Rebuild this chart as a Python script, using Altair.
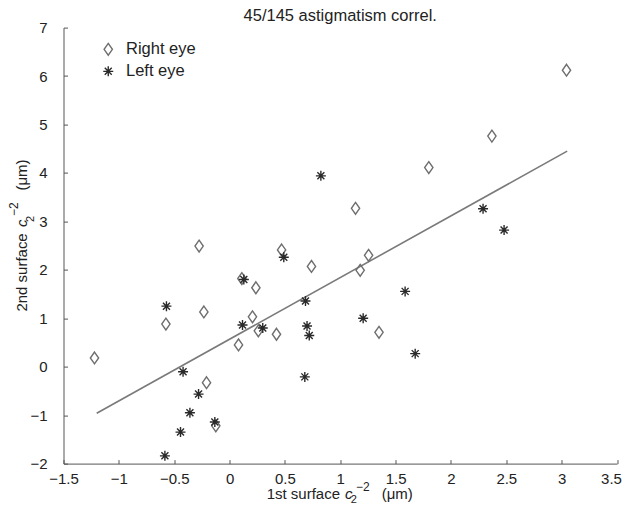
import altair as alt
import pandas as pd

# ---- data ----
right_x = [-1.22, -0.575, -0.275, -0.232, -0.208, -0.124, 0.081, 0.111, 0.207, 0.238,
           0.26, 0.424, 0.47, 0.74, 1.138, 1.18, 1.256, 1.35, 1.80, 2.37, 3.044]
right_y = [0.18, 0.88, 2.49, 1.13, -0.33, -1.22, 0.45, 1.82, 1.03, 1.63,
           0.74, 0.67, 2.41, 2.07, 3.27, 1.99, 2.30, 0.71, 4.11, 4.76, 6.12]
left_x = [-0.584, -0.57, -0.443, -0.42, -0.358, -0.28, -0.133, 0.117, 0.129, 0.30,
          0.49, 0.68, 0.686, 0.70, 0.72, 0.825, 1.207, 1.586, 1.677, 2.29, 2.48]
left_y = [-1.84, 1.25, -1.35, -0.105, -0.95, -0.565, -1.14, 0.86, 1.80, 0.80,
          2.26, -0.21, 1.355, 0.84, 0.645, 3.94, 1.00, 1.555, 0.27, 3.26, 2.82]
fit_x = [-1.2, 3.05]
fit_y = [-0.96, 4.45]
x_ticks = [-1.5, -1, -0.5, 0, 0.5, 1, 1.5, 2, 2.5, 3, 3.5]
y_ticks = [-2, -1, 0, 1, 2, 3, 4, 5, 6, 7]
series = ["Right eye", "Left eye"]
title_text = "45/145 astigmatism correl."

FONT = "Liberation Sans"
DIAMOND = "M0,-1L0.7,0L0,1L-0.7,0Z"
STAR = "M-1,0L1,0M0,-1L0,1M-0.7,-0.7L0.7,0.7M-0.7,0.7L0.7,-0.7"

pts = pd.DataFrame({
    "x": right_x + left_x,
    "y": right_y + left_y,
    "eye": [series[0]] * len(right_x) + [series[1]] * len(left_x),
})
fit = pd.DataFrame({"x": fit_x, "y": fit_y})

W, H = 553.5, 436

xscale = alt.Scale(domain=[-1.5, 3.5], nice=False, zero=False)
yscale = alt.Scale(domain=[-2, 7], nice=False, zero=False)

common = dict(grid=False, title=None, labelFont=FONT, labelFontSize=15, labelColor="#222",
              labelFlush=False, labelOverlap=False)
# the last x label is nudged left a little so that it stays inside the page
label_x = alt.Axis(values=x_ticks, format=".1~f", tickSize=0, labelPadding=8,
                   labelOffset={"condition": {"test": "datum.value == 3.5", "value": -6}, "value": 0},
                   domainColor="#555", orient="bottom", **common)
label_y = alt.Axis(values=y_ticks, format="d", tickSize=0, labelPadding=16.5,
                   domainColor="#555", orient="left", **common)
tick_x = alt.Axis(values=x_ticks, labels=False, domain=False, tickSize=4, offset=-4,
                  tickColor="#555", orient="bottom", grid=False, title=None)
tick_y = alt.Axis(values=y_ticks, labels=False, domain=False, tickSize=4, offset=-4,
                  tickColor="#555", orient="left", grid=False, title=None)

legend = alt.Legend(title=None, orient="none", legendX=36.5, legendY=13.5,
                    labelFont=FONT, labelFontSize=16.5, labelColor="#222",
                    labelOffset=9.5, rowPadding=5, padding=0, symbolStrokeWidth=1.4)

line = alt.Chart(fit).mark_line(color="#7a7a7a", strokeWidth=1.6).encode(
    x=alt.X("x:Q", scale=xscale, axis=label_x),
    y=alt.Y("y:Q", scale=yscale, axis=label_y),
)

points = alt.Chart(pts).mark_point(filled=False, strokeWidth=1.4, opacity=1).encode(
    x=alt.X("x:Q", scale=xscale, axis=tick_x),
    y=alt.Y("y:Q", scale=yscale, axis=tick_y),
    shape=alt.Shape("eye:N", scale=alt.Scale(domain=series, range=[DIAMOND, STAR]), legend=legend),
    stroke=alt.Stroke("eye:N", scale=alt.Scale(domain=series, range=["#6e6e6e", "#2a2a2a"]), legend=legend),
    size=alt.Size("eye:N", scale=alt.Scale(domain=series, range=[140, 100]), legend=legend),
)

# ---- title and axis titles composed of text pieces (sub/superscripts) ----
one = pd.DataFrame({"k": [0]})


def piece(text, x, y, size=15, italic=False, angle=0, align="left"):
    return alt.Chart(one).mark_text(
        text=text, font=FONT, fontSize=size, fontStyle="italic" if italic else "normal",
        align=align, baseline="alphabetic", color="#222", angle=angle,
    ).encode(x=alt.value(x), y=alt.value(y))


title = piece(title_text, W / 2, -6.8, size=16.5, align="center")

bx, by = 203.2, 471.0
xt = [
    piece("1st surface", bx, by),
    piece("c", bx + 78.3, by, italic=True),
    piece("2", bx + 84.0, by + 4.2, size=11),
    piece("\u22122", bx + 89.3, by - 7.5, size=12),
    piece("(\u03bcm)", bx + 115, by),
]
ax, ay = -36.8, 284.0
yt = [
    piece("2nd surface", ax, ay, angle=270),
    piece("c", ax, ay - 84.5, italic=True, angle=270),
    piece("2", ax + 7, ay - 89.5, size=11, angle=270),
    piece("\u22122", ax - 8.4, ay - 95.5, size=12, angle=270),
    piece("(\u03bcm)", ax, ay - 121, angle=270),
]

chart = alt.layer(line, points, title, *xt, *yt).resolve_axis(
    x="independent", y="independent"
).properties(
    width=W, height=H,
    autosize=alt.AutoSizeParams(type="none"),
    padding={"left": 55.5, "top": 19.6, "right": 5, "bottom": 40},
).configure_view(stroke=None)

chart.save("out.html", embed_options={"renderer": "svg", "actions": False})
